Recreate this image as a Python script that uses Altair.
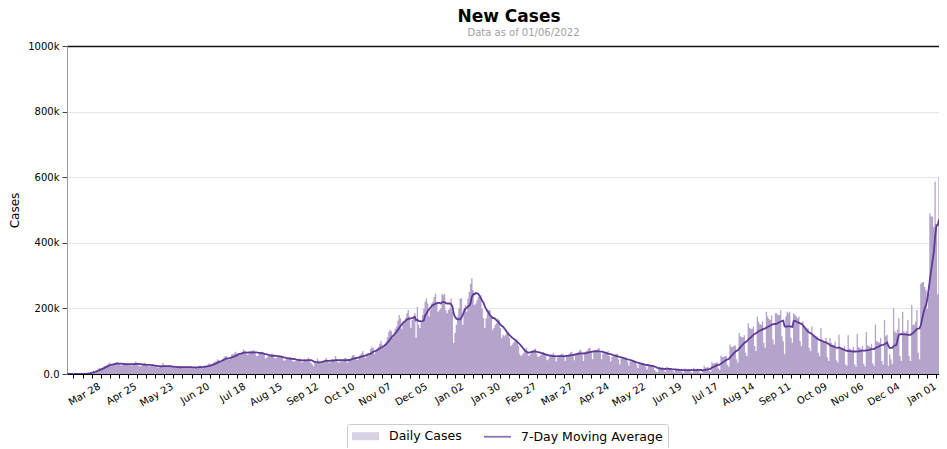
import altair as alt
import pandas as pd

TITLE = "New Cases"
SUBTITLE = "Data as of 01/06/2022"
Y_TITLE = "Cases"
SERIES = ["Daily Cases", "7-Day Moving Average"]
FIRST_DAY = "2020-03-02"
X_END = "2022-01-03"
FIRST_TICK = "2020-03-07"
LAST_TICK = "2022-01-01"
FIRST_LABEL = "2020-03-28"
Y_TICKS = [0, 200000, 400000, 600000, 800000, 1000000]

FILL = "#b4a4cc"
LINE = "#5c3a96"
FONT = "DejaVu Sans"
RECT_PATH = "M-1,-0.667H3.5V0.667H-1Z"
LINE_PATH = "M-1,0H3.5"

# Daily new cases (thousands), one list per month
mar20 = [0.02, 0.03, 0.04, 0.05, 0.06, 0.08, 0.1, 0.15, 0.25, 0.35, 0.45, 0.6, 0.75, 0.9,
         1.3, 1.8, 2.8, 4.5, 5.8, 7, 8, 10, 10, 12, 16, 18, 19, 19, 22, 25]
apr20 = [26, 29, 32, 34, 26, 29, 32, 33, 35, 35, 31, 28, 26, 28, 30, 32, 33, 33, 27,
         28, 26, 30, 34, 38, 33, 27, 23, 25, 27, 30]
may20 = [34, 29, 26, 23, 24, 25, 28, 28, 26, 21, 19, 22, 21, 27, 34, 24, 21,
         21, 21, 22, 25, 24, 22, 19, 18, 19, 20, 22, 24, 23, 20]
jun20 = [19, 20, 20, 21, 22, 23, 18, 17, 18, 21, 23, 25, 25, 19, 19, 23, 25, 27, 31, 32, 26,
         29, 34, 37, 39, 45, 43, 40, 40, 46]
jul20 = [51, 55, 54, 46, 43, 47, 60, 60, 63, 68, 62, 59, 58, 65, 67, 75, 71, 64, 58,
         60, 64, 71, 71, 73, 66, 55, 55, 62, 66, 68, 67]
aug20 = [58, 47, 50, 56, 56, 60, 63, 58, 48, 47, 53, 54, 53, 57, 52, 41, 41, 47, 49, 48, 52, 47, 40,
         37, 40, 42, 45, 47, 44, 35, 37]
sep20 = [43, 41, 45, 50, 44, 34, 30, 24, 34, 37, 47, 41, 35, 33, 38, 39, 45, 49, 43, 34,
         38, 40, 40, 44, 55, 45, 36, 34, 43, 39]
oct20 = [45, 49, 49, 34, 41, 42, 50, 57, 58, 50, 45, 43, 51, 59, 63, 70, 57, 48,
         60, 62, 63, 76, 83, 80, 61, 70, 76, 82, 92, 101, 89]
nov20 = [80, 92, 100, 112, 128, 135, 130, 110, 118, 138, 145, 162, 180, 170, 138,
         160, 160, 170, 185, 195, 175, 140, 165, 175, 185, 110, 205, 150, 140, 160]
dec20 = [180, 200, 220, 230, 215, 175, 195, 215, 220, 235, 245, 220, 190,
         195, 200, 245, 240, 245, 195, 185, 195, 200, 230, 190, 95, 125, 150, 175, 200, 230, 230]
jan21 = [150, 200, 210, 190, 230, 250, 275, 292, 255, 210, 215, 225, 235, 235, 240, 200, 170,
         140, 170, 185, 195, 195, 175, 135, 140, 150, 155, 170, 165, 140, 110]
feb21 = [120, 115, 120, 125, 130, 110, 85, 90, 95, 100, 105, 100, 85, 60,
         55, 60, 65, 70, 80, 70, 55, 60, 70, 72, 75, 78, 62, 52]
mar21 = [55, 57, 65, 67, 65, 58, 42, 45, 55, 58, 60, 65, 55, 38, 50, 55, 58, 62, 62, 55, 40,
         55, 58, 62, 66, 68, 60, 42, 62, 63, 67]
apr21 = [72, 74, 60, 40, 66, 69, 72, 78, 80, 68, 45, 70, 73, 72, 76, 80, 63, 45,
         62, 65, 64, 68, 70, 55, 38, 52, 56, 58, 60, 62]
may21 = [45, 30, 46, 48, 50, 50, 50, 38, 25, 38, 38, 40, 40, 40, 28, 18,
         30, 30, 32, 32, 32, 22, 14, 26, 24, 26, 28, 26, 12, 8, 6]
jun21 = [20, 22, 18, 22, 12, 7, 18, 16, 17, 17, 16, 9, 5, 16, 14, 14, 14, 14, 7, 4,
         17, 13, 13, 14, 15, 6, 3, 19, 14, 14]
jul21 = [17, 14, 4, 3, 5, 25, 20, 20, 22, 10, 7, 36, 32, 33, 34, 36, 17, 13,
         56, 52, 52, 54, 56, 28, 22, 90, 82, 82, 85, 88, 45]
aug21 = [35, 125, 115, 112, 112, 118, 65, 55, 155, 140, 138, 138, 145, 85, 70,
         175, 160, 152, 150, 160, 95, 80, 190, 175, 168, 165, 178, 105, 90, 185, 185]
sep21 = [180, 180, 195, 115, 100, 60, 175, 190, 185, 190, 110, 95, 185, 180, 175, 170, 175, 100, 85,
         160, 145, 140, 135, 140, 80, 70, 145, 120, 115, 110]
oct21 = [115, 65, 55, 140, 105, 100, 98, 110, 50, 40, 110, 95, 90, 88, 98, 42, 35,
         120, 80, 78, 75, 85, 30, 25, 118, 78, 75, 72, 82, 30, 22]
nov21 = [122, 82, 80, 76, 85, 31, 23, 128, 88, 85, 82, 92, 33, 25, 150, 100, 98, 95, 110, 40, 28,
         165, 115, 120, 25, 60, 45, 30, 200, 130]
dec21 = [125, 135, 170, 55, 40, 190, 130, 125, 130, 165, 55, 40, 210, 150, 150, 160, 195, 65, 45,
         275, 280, 280, 265, 255, 200, 244, 490, 480, 480, 448, 586]
jan22 = [448, 242, 600, 500, 550]

months = [mar20, apr20, may20, jun20, jul20, aug20, sep20, oct20, nov20, dec20,
          jan21, feb21, mar21, apr21, may21, jun21, jul21, aug21, sep21, oct21, nov21, dec21, jan22]
expected = [30, 30, 31, 30, 31, 31, 30, 31, 30, 31, 31, 28, 31, 30, 31, 30, 31, 31, 30, 31, 30, 31, 5]
for m, n in zip(months, expected):
    assert len(m) == n, (len(m), n)

daily_k = [v for m in months for v in m]
dates = pd.date_range(FIRST_DAY, periods=len(daily_k), freq="D")
fmt = "%Y-%m-%dT%H:%M:%SZ"
df = pd.DataFrame({
    "date": dates.strftime(fmt),
    "start": (dates - pd.Timedelta(hours=12)).strftime(fmt),
    "cases": [round(v * 1000) for v in daily_k],
})


def ms(s):
    return int(pd.Timestamp(s, tz="UTC").value // 10**6)


x_domain = [ms(FIRST_DAY), ms(X_END)]
tick_vals = [ms(t) for t in pd.date_range(FIRST_TICK, LAST_TICK, freq="7D")]
label0 = ms(FIRST_LABEL)

x_scale = alt.Scale(type="utc", domain=x_domain, nice=False)
y_scale = alt.Scale(domain=[0, 1000000], nice=False)

# bottom axis: ticks and date labels; its title carries the grey "data as of" line
x_axis = alt.Axis(
    orient="bottom", values=tick_vals,
    labelExpr=f"(round((datum.value - {label0}) / 86400000) % 28 == 0) ? utcFormat(datum.value, '%b %d') : ''",
    title=SUBTITLE, titleFont=FONT, titleFontSize=10, titleFontWeight="normal",
    titleColor="#a0a0a0", titleX=456, titleY=-339, titleAlign="center",
    titleBaseline="alphabetic",
    labelAngle=330, labelAlign="right", labelBaseline="top",
    labelOffset=-4, labelPadding=3, tickSize=4, tickColor="black",
    domainColor="black", domainWidth=1, labelFont=FONT, labelFontSize=10,
    labelColor="black", labelOverlap=False, labelFlush=False, grid=False,
)
# top axis: nothing drawn but the bold chart title
x_axis_top = alt.Axis(
    orient="top", labels=False, ticks=False, domain=False, grid=False,
    title=TITLE, titleFont=FONT, titleFontSize=17, titleFontWeight="bold",
    titleColor="black", titleX=441.5, titleY=-25, titleAlign="center",
    titleBaseline="alphabetic",
)
y_axis = alt.Axis(
    values=Y_TICKS,
    labelExpr="datum.value == 0 ? '0.0' : format(datum.value / 1000, 'd') + 'k'",
    title=Y_TITLE, titleFont=FONT, titleFontSize=12, titleFontWeight="normal",
    titleColor="black", titleX=-53, titleY=164, titleAngle=270,
    titleBaseline="middle", titleAlign="center",
    grid=True,
    gridColor={"condition": {"test": "datum.value == 1000000", "value": "#111111"}, "value": "#e6e6e6"},
    gridWidth={"condition": {"test": "datum.value == 1000000", "value": 1.6}, "value": 1},
    domainColor="#9a9a9a", tickColor="#444444", tickSize=5, labelPadding=3,
    labelFont=FONT, labelFontSize=10, labelColor="black",
)

legend = alt.Legend(
    orient="none", legendX=280, legendY=378, direction="horizontal", title=None,
    symbolSize=144, symbolStrokeWidth=1.8, symbolOffset=-1, labelOffset=24,
    columnPadding=18, padding=5, strokeColor="#cccccc", fillColor="white",
    cornerRadius=2, labelFont=FONT, labelFontSize=12.5, labelColor="black", labelLimit=300,
)

# daily bars: one step-shaped area, each day one day wide
bars = alt.Chart(df).mark_area(
    fill=FILL, opacity=1, interpolate="step-after", clip=True
).encode(
    x=alt.X("start:T", scale=x_scale, axis=x_axis),
    y=alt.Y("cases:Q", scale=y_scale, axis=y_axis),
)

line = alt.Chart(df).transform_window(
    ma="mean(cases)", frame=[-6, 0], sort=[alt.SortField("date")]
).mark_line(clip=True, color=LINE, strokeWidth=1.8).encode(
    x=alt.X("date:T", scale=x_scale, axis=x_axis_top),
    y=alt.Y("ma:Q", scale=y_scale, axis=y_axis),
)

# legend only: no rows survive the filter, the legend comes from the scales
key = alt.Chart(df).transform_filter("false").mark_point(filled=True, clip=True).encode(
    shape=alt.Shape("series:N", scale=alt.Scale(domain=SERIES, range=[RECT_PATH, LINE_PATH]), legend=legend),
    fill=alt.Fill("series:N", scale=alt.Scale(domain=SERIES, range=[FILL, "transparent"]), legend=legend),
    stroke=alt.Stroke("series:N", scale=alt.Scale(domain=SERIES, range=["transparent", LINE]), legend=legend),
)

chart = alt.layer(bars, line, key).resolve_axis(x="independent").properties(
    width=872, height=328,
    padding={"left": 59, "top": 38, "right": 0, "bottom": 74},
    autosize=alt.AutoSizeParams(type="none"),
).configure_view(stroke=None).configure(font=FONT)

chart.save("out.html", embed_options={"renderer": "svg", "actions": False})
